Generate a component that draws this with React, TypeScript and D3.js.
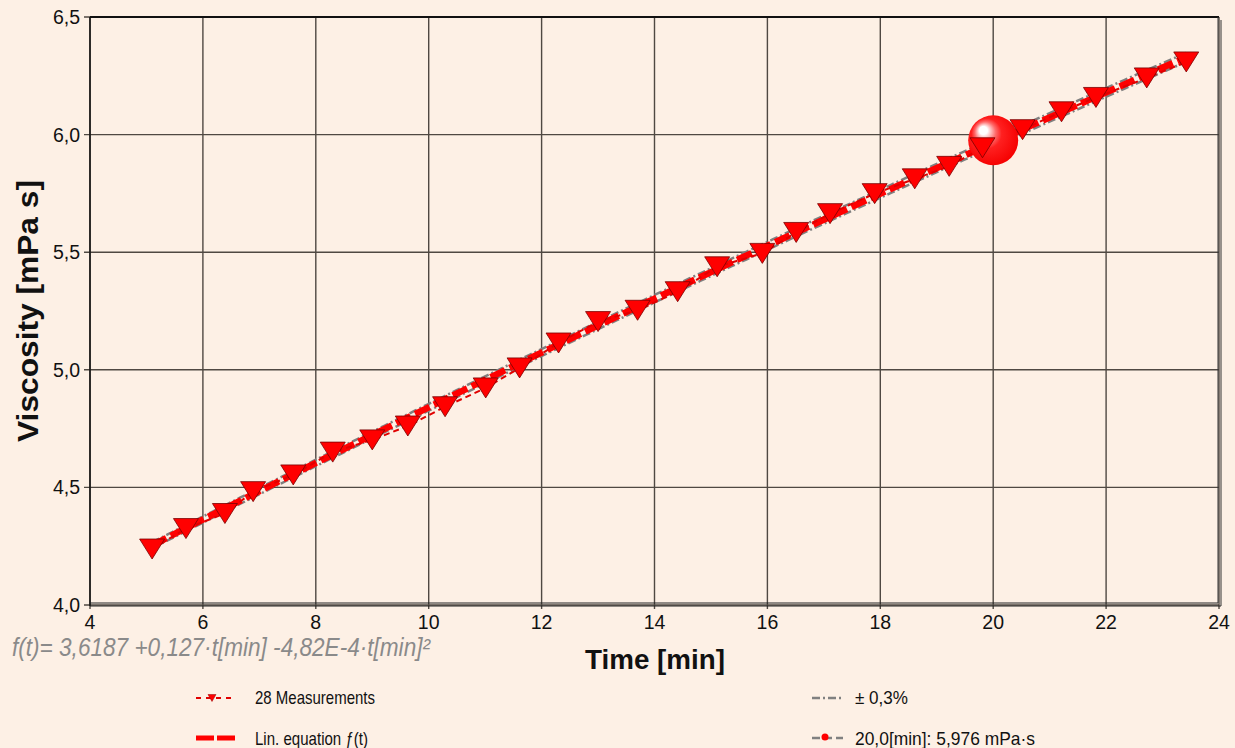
import React from 'react';
import * as d3 from 'd3';

// ---- data ----
const timeMin = [5.10, 5.70, 6.39, 6.89, 7.60, 8.30, 9.00, 9.63, 10.29, 11.01, 11.61, 12.30, 13.00, 13.70, 14.41, 15.11, 15.91, 16.51, 17.11, 17.90, 18.61, 19.22, 19.81, 20.52, 21.21, 21.82, 22.72, 23.42];
const viscosity = [4.238, 4.325, 4.389, 4.482, 4.553, 4.650, 4.702, 4.761, 4.843, 4.923, 5.008, 5.114, 5.205, 5.253, 5.332, 5.438, 5.495, 5.584, 5.664, 5.749, 5.812, 5.865, 5.944, 6.021, 6.097, 6.158, 6.241, 6.309];
const fitCoefficients = [3.6187, 0.127, -4.82e-4];
const tolerancePct = 0.3;
const markedTime = 20.0;
const markedValue = 5.976;
const xTicks = [4, 6, 8, 10, 12, 14, 16, 18, 20, 22, 24];
const yTicks = [4.0, 4.5, 5.0, 5.5, 6.0, 6.5];
const formulaText = 'f(t)= 3,6187 +0,127·t[min] -4,82E-4·t[min]²';
const legendLabels = ['28 Measurements', 'Lin. equation ƒ(t)', '± 0,3%', '20,0[min]: 5,976 mPa·s'];

const W = 1235, H = 748;
const FONT = "'Liberation Sans', Arial, sans-serif";

export default function App() {
  const x = d3.scaleLinear().domain([4, 24]).range([90, 1219]);
  const y = d3.scaleLinear().domain([4, 6.5]).range([605, 17]);
  const fmt = (v: number) => d3.format('.1f')(v).replace('.', ',');
  const fmtX = (v: number) => String(v);

  const f = (t: number) => fitCoefficients[0] + fitCoefficients[1] * t + fitCoefficients[2] * t * t;
  const tExt = d3.extent(timeMin) as [number, number];
  const ts = d3.range(tExt[0], tExt[1] + 0.001, (tExt[1] - tExt[0]) / 200);

  const lineGen = d3.line<[number, number]>().x(d => x(d[0])).y(d => y(d[1]));
  const dataPath = lineGen(timeMin.map((t, i) => [t, viscosity[i]] as [number, number]))!;
  const fitPath = lineGen(ts.map(t => [t, f(t)] as [number, number]))!;
  const upPath = lineGen(ts.map(t => [t, f(t) * (1 + tolerancePct / 100)] as [number, number]))!;
  const dnPath = lineGen(ts.map(t => [t, f(t) * (1 - tolerancePct / 100)] as [number, number]))!;

  const tri = (cx: number, cy: number, w: number, h: number) =>
    `M${cx - w / 2},${cy - h / 2}L${cx + w / 2},${cy - h / 2}L${cx},${cy + h / 2}Z`;

  const x0 = x(4), x1 = x(24), y0 = y(4), y1 = y(6.5);

  return (
    <svg width={W} height={H} style={{ position: 'absolute', left: 0, top: 0, display: 'block' }} fontFamily={FONT}>
      <defs>
        <radialGradient id="sphere" cx="0.45" cy="0.45" r="0.58" fx="0.28" fy="0.28">
          <stop offset="0" stopColor="#ffffff" />
          <stop offset="0.14" stopColor="#ffffff" />
          <stop offset="0.22" stopColor="#ffc8c8" />
          <stop offset="0.36" stopColor="#ff6a6a" />
          <stop offset="0.52" stopColor="#ff2020" />
          <stop offset="1" stopColor="#f50000" />
        </radialGradient>
      </defs>
      <rect x={0} y={0} width={W} height={H} fill="#fdf0e5" />

      {/* grid */}
      {xTicks.map(t => (
        <line key={'gx' + t} x1={x(t)} x2={x(t)} y1={y1} y2={y0 + 4} stroke="#4f4842" strokeWidth={1.4} />
      ))}
      {yTicks.map(v => (
        <line key={'gy' + v} x1={x0 - 6} x2={x1} y1={y(v)} y2={y(v)} stroke="#4f4842" strokeWidth={1.4} />
      ))}

      {/* frame */}
      <line x1={x0} x2={x1} y1={y1} y2={y1} stroke="#111" strokeWidth={2} />
      <line x1={x0} x2={x0} y1={y1} y2={y0 + 1} stroke="#111" strokeWidth={1.5} />
      <line x1={x0} x2={x1 - 1} y1={y0 - 2} y2={y0 - 2} stroke="#222" strokeWidth={1} />
      <line x1={x0} x2={x1 + 2} y1={y0 + 1} y2={y0 + 1} stroke="#222" strokeWidth={1} />
      <line x1={x1 - 1} x2={x1 - 1} y1={y1} y2={y0 - 2} stroke="#333" strokeWidth={1} />
      <line x1={x1 + 2} x2={x1 + 2} y1={y1 + 3} y2={y0 + 1} stroke="#333" strokeWidth={1} />

      {/* tick labels */}
      {yTicks.map(v => (
        <text key={'ty' + v} x={x0 - 10} y={y(v) + 7} textAnchor="end" fontSize={19.5} fill="#111">{fmt(v)}</text>
      ))}
      {xTicks.map(t => (
        <text key={'tx' + t} x={x(t)} y={y0 + 24} textAnchor="middle" fontSize={19.5} fill="#111">{fmtX(t)}</text>
      ))}

      {/* axis titles */}
      <text transform={`translate(38,${(y0 + y1) / 2}) rotate(-90)`} textAnchor="middle" fontSize={30} fontWeight="bold" fill="#111" textLength={262} lengthAdjust="spacingAndGlyphs">Viscosity [mPa s]</text>
      <text x={655} y={669} textAnchor="middle" fontSize={27} fontWeight="bold" fill="#111" textLength={140} lengthAdjust="spacingAndGlyphs">Time [min]</text>

      {/* formula */}
      <text x={12} y={656} fontSize={25} fontStyle="italic" fill="#8a8a8a" textLength={418} lengthAdjust="spacingAndGlyphs">{formulaText}</text>

      {/* tolerance lines */}
      <path d={upPath} fill="none" stroke="#808080" strokeWidth={2.5} strokeDasharray="8,3,2,3" />
      <path d={dnPath} fill="none" stroke="#808080" strokeWidth={2.5} strokeDasharray="8,3,2,3" />
      {/* fit line */}
      <path d={fitPath} fill="none" stroke="#ff0000" strokeWidth={6.5} strokeDasharray="16,5" />
      {/* measurement line */}
      <path d={dataPath} fill="none" stroke="#e00000" strokeWidth={2} strokeDasharray="6,4" />

      {/* marked point */}
      <circle cx={x(markedTime)} cy={y(markedValue)} r={25} fill="url(#sphere)" />

      {/* markers */}
      {timeMin.map((t, i) => (
        <path key={'m' + i} d={tri(x(t), y(viscosity[i]), 25, 20)} fill="#ff0000" stroke="#7a0000" strokeWidth={0.8} />
      ))}

      {/* legend */}
      <g>
        <line x1={196} x2={235} y1={698} y2={698} stroke="#e00000" strokeWidth={2} strokeDasharray="5,5" />
        <path d={tri(212, 698, 8, 7)} fill="#ff0000" stroke="#900000" strokeWidth={0.5} />
        <text x={255} y={704} fontSize={19} fill="#111" textLength={120} lengthAdjust="spacingAndGlyphs">{legendLabels[0]}</text>

        <line x1={196} x2={236} y1={738} y2={738} stroke="#ff0000" strokeWidth={5} strokeDasharray="18,3" />
        <text x={255} y={745} fontSize={19} fill="#111" textLength={113} lengthAdjust="spacingAndGlyphs">{legendLabels[1]}</text>

        <line x1={812} x2={843} y1={698} y2={698} stroke="#808080" strokeWidth={2.5} strokeDasharray="8,3,2,3" />
        <text x={855} y={704} fontSize={19} fill="#111" textLength={53} lengthAdjust="spacingAndGlyphs">{legendLabels[2]}</text>

        <line x1={812} x2={843} y1={738} y2={738} stroke="#808080" strokeWidth={2.5} strokeDasharray="8,4" />
        <circle cx={825} cy={737} r={3.5} fill="#ff0000" />
        <text x={855} y={745} fontSize={19} fill="#111" textLength={180} lengthAdjust="spacingAndGlyphs">{legendLabels[3]}</text>
      </g>
    </svg>
  );
}
